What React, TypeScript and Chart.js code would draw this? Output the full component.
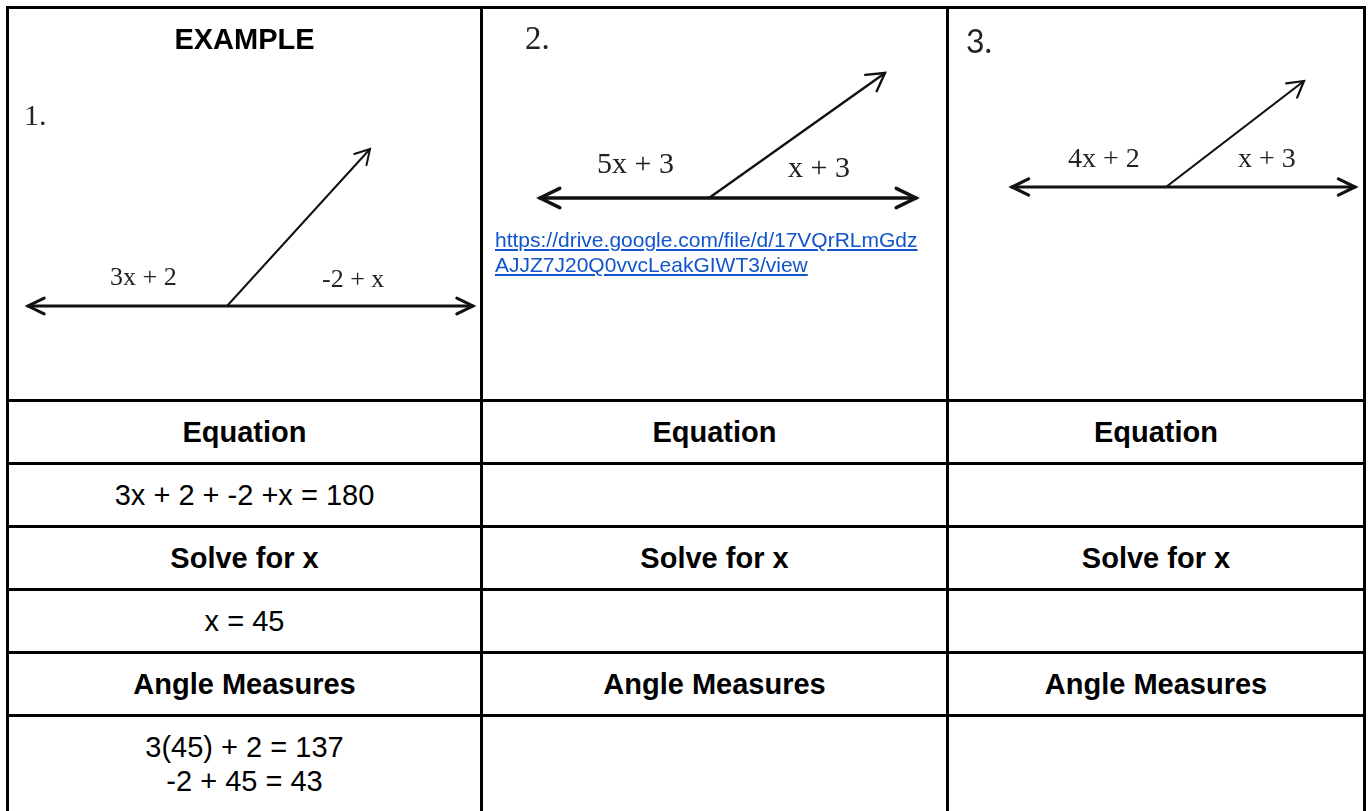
import React, { useEffect, useRef } from "react";
import { Chart, registerables } from "chart.js";

Chart.register(...registerables);

// ---------- data ----------
const columnTitles = ["EXAMPLE", "", ""];
const problemNumbers = ["1.", "2.", "3."];
const leftAngleLabels = ["3x + 2", "5x + 3", "4x + 2"];
const rightAngleLabels = ["-2 + x", "x + 3", "x + 3"];
// diagram geometry (cell-local units)
const lineLeftX = [19, 57, 63];
const lineRightX = [464, 433, 406];
const lineY = [297, 189, 178];
const vertexX = [218, 226, 217];
const rayEndX = [361, 402, 355];
const rayEndY = [140, 64, 72];

const rowHeaders = ["Equation", "Solve for x", "Angle Measures"];
const equations = ["3x + 2 + -2 +x = 180", "", ""];
const solutions = ["x = 45", "", ""];
const angleMeasures: string[][] = [["3(45) + 2 = 137", "-2 + 45 = 43"], [], []];
const linkLines = ["https://drive.google.com/file/d/17VQrRLmGdz", "AJJZ7J20Q0vvcLeakGIWT3/view"];
const linkHref = "https://drive.google.com/file/d/17VQrRLmGdzAJJZ7J20Q0vvcLeakGIWT3/view";

// ---------- layout / styles ----------
const colWidths = [471, 463, 414];
const topRowH = 390;
const rowH = 60;
const lastRowH = 100;
const BORDER = 3;
const SANS = '"Liberation Sans", Arial, Helvetica, sans-serif';
const SERIF = '"Liberation Serif", "Times New Roman", serif';

const diagramStyle = [
  { mainW: 3, rayW: 2, head: 18, rayHead: 16.5,
    num: { x: 15, base: 116, size: 30, font: SERIF },
    left: { x: 101, base: 277, size: 26 }, right: { x: 313, base: 279, size: 26 } },
  { mainW: 3.5, rayW: 2.4, head: 22, rayHead: 20,
    num: { x: 42, base: 41, size: 33, font: SERIF },
    left: { x: 114, base: 164, size: 30 }, right: { x: 305, base: 168, size: 30 } },
  { mainW: 3.2, rayW: 2.2, head: 18.5, rayHead: 18,
    num: { x: 17, base: 43, size: 32, font: '"Lato", "Open Sans", sans-serif' },
    left: { x: 119, base: 159, size: 28 }, right: { x: 289, base: 159, size: 28 } },
];

const arrowPlugin = {
  id: "arrowheads",
  afterDatasetsDraw(chart: any) {
    const ctx = chart.ctx;
    chart.data.datasets.forEach((ds: any, i: number) => {
      const pts = chart.getDatasetMeta(i).data;
      if (pts.length < 2) return;
      const L = ds.arrowSize;
      const spread = ds.arrowAngle;
      const head = (tip: any, from: any) => {
        const a = Math.atan2(tip.y - from.y, tip.x - from.x);
        ctx.beginPath();
        ctx.moveTo(tip.x - L * Math.cos(a - spread), tip.y - L * Math.sin(a - spread));
        ctx.lineTo(tip.x, tip.y);
        ctx.lineTo(tip.x - L * Math.cos(a + spread), tip.y - L * Math.sin(a + spread));
        ctx.stroke();
      };
      ctx.save();
      ctx.strokeStyle = ds.borderColor;
      ctx.lineWidth = ds.borderWidth;
      ctx.lineCap = "round";
      ctx.lineJoin = "miter";
      if (ds.arrowEnd) head(pts[pts.length - 1], pts[pts.length - 2]);
      if (ds.arrowStart) head(pts[0], pts[1]);
      ctx.restore();
    });
  },
};

function Diagram({ idx, w, h }: { idx: number; w: number; h: number }) {
  const ref = useRef<HTMLCanvasElement>(null);
  useEffect(() => {
    const st = diagramStyle[idx];
    const chart = new Chart(ref.current!, {
      type: "scatter",
      data: {
        datasets: [
          {
            label: "line",
            data: [
              { x: lineLeftX[idx], y: lineY[idx] },
              { x: vertexX[idx], y: lineY[idx] },
              { x: lineRightX[idx], y: lineY[idx] },
            ],
            showLine: true,
            borderColor: "#111",
            borderWidth: st.mainW,
            pointRadius: 0,
            borderCapStyle: "round",
            clip: false,
            arrowStart: true,
            arrowEnd: true,
            arrowSize: st.head,
            arrowAngle: (26 * Math.PI) / 180,
          } as any,
          {
            label: "ray",
            data: [
              { x: vertexX[idx], y: lineY[idx] },
              { x: rayEndX[idx], y: rayEndY[idx] },
            ],
            showLine: true,
            borderColor: "#111",
            borderWidth: st.rayW,
            pointRadius: 0,
            borderCapStyle: "round",
            clip: false,
            arrowEnd: true,
            arrowSize: st.rayHead,
            arrowAngle: (30 * Math.PI) / 180,
          } as any,
        ],
      },
      options: {
        animation: false,
        responsive: false,
        maintainAspectRatio: false,
        layout: { padding: 0 },
        events: [],
        plugins: { legend: { display: false }, tooltip: { enabled: false } },
        scales: {
          x: { type: "linear", min: 0, max: w, display: false },
          y: { type: "linear", min: 0, max: h, reverse: true, display: false },
        },
      },
      plugins: [arrowPlugin],
    });
    return () => chart.destroy();
  }, [idx, w, h]);
  const st = diagramStyle[idx];
  const lab = (text: string, p: { x: number; base: number; size: number }, font: string, color: string) => (
    <div
      style={{
        position: "absolute",
        left: p.x,
        top: p.base - 0.84 * p.size,
        fontFamily: font,
        fontSize: p.size,
        lineHeight: `${p.size}px`,
        color,
        whiteSpace: "nowrap",
      }}
    >
      {text}
    </div>
  );
  return (
    <>
      <canvas ref={ref} width={w} height={h} style={{ position: "absolute", left: 0, top: 0, width: w, height: h }} />
      {lab(problemNumbers[idx], st.num, st.num.font, "#222")}
      {lab(leftAngleLabels[idx], st.left, SERIF, "#222")}
      {lab(rightAngleLabels[idx], st.right, SERIF, "#222")}
    </>
  );
}

const cellBase: React.CSSProperties = {
  background: "#fff",
  position: "relative",
  overflow: "hidden",
  fontFamily: SANS,
  fontSize: 29,
  color: "#000",
};

function Centered({ text, bold }: { text: string; bold?: boolean }) {
  return (
    <div style={{ ...cellBase, display: "flex", alignItems: "center", justifyContent: "center", fontWeight: bold ? 700 : 400 }}>
      {text}
    </div>
  );
}

export default function App() {
  const cells: React.ReactNode[] = [];
  for (let c = 0; c < 3; c++) {
    cells.push(
      <div key={`top${c}`} style={{ ...cellBase }}>
        <Diagram idx={c} w={colWidths[c]} h={topRowH} />
        {columnTitles[c] && (
          <div
            style={{
              position: "absolute",
              left: 0,
              right: 0,
              top: 16,
              textAlign: "center",
              fontWeight: 700,
              lineHeight: "29px",
            }}
          >
            {columnTitles[c]}
          </div>
        )}
        {c === 1 && (
          <a
            href={linkHref}
            style={{
              position: "absolute",
              left: 12,
              top: 218,
              fontSize: 21,
              lineHeight: "25px",
              color: "#1155cc",
              textDecoration: "underline",
              fontFamily: SANS,
            }}
          >
            {linkLines.map((l, i) => (
              <span key={i} style={{ display: "block", whiteSpace: "nowrap" }}>
                {l}
              </span>
            ))}
          </a>
        )}
      </div>
    );
  }
  const rows: [string, string[]][] = [
    [rowHeaders[0], equations],
    [rowHeaders[1], solutions],
  ];
  rows.forEach(([hdr, vals], r) => {
    for (let c = 0; c < 3; c++) cells.push(<Centered key={`h${r}${c}`} text={hdr} bold />);
    for (let c = 0; c < 3; c++) cells.push(<Centered key={`v${r}${c}`} text={vals[c]} />);
  });
  for (let c = 0; c < 3; c++) cells.push(<Centered key={`hm${c}`} text={rowHeaders[2]} bold />);
  for (let c = 0; c < 3; c++)
    cells.push(
      <div key={`am${c}`} style={{ ...cellBase, textAlign: "center", paddingTop: 14, lineHeight: "33.5px", boxSizing: "border-box" }}>
        {angleMeasures[c].map((l, i) => (
          <div key={i}>{l}</div>
        ))}
      </div>
    );

  return (
    <div style={{ position: "fixed", left: 0, top: 0, right: 0, bottom: 0, overflow: "hidden", background: "#fff" }}>
      <div
        style={{
          position: "absolute",
          left: 6,
          top: 6,
          display: "grid",
          gridTemplateColumns: colWidths.map((w) => `${w}px`).join(" "),
          gridTemplateRows: [topRowH, rowH, rowH, rowH, rowH, rowH, lastRowH].map((h) => `${h}px`).join(" "),
          gap: BORDER,
          padding: BORDER,
          background: "#000",
        }}
      >
        {cells}
      </div>
    </div>
  );
}
